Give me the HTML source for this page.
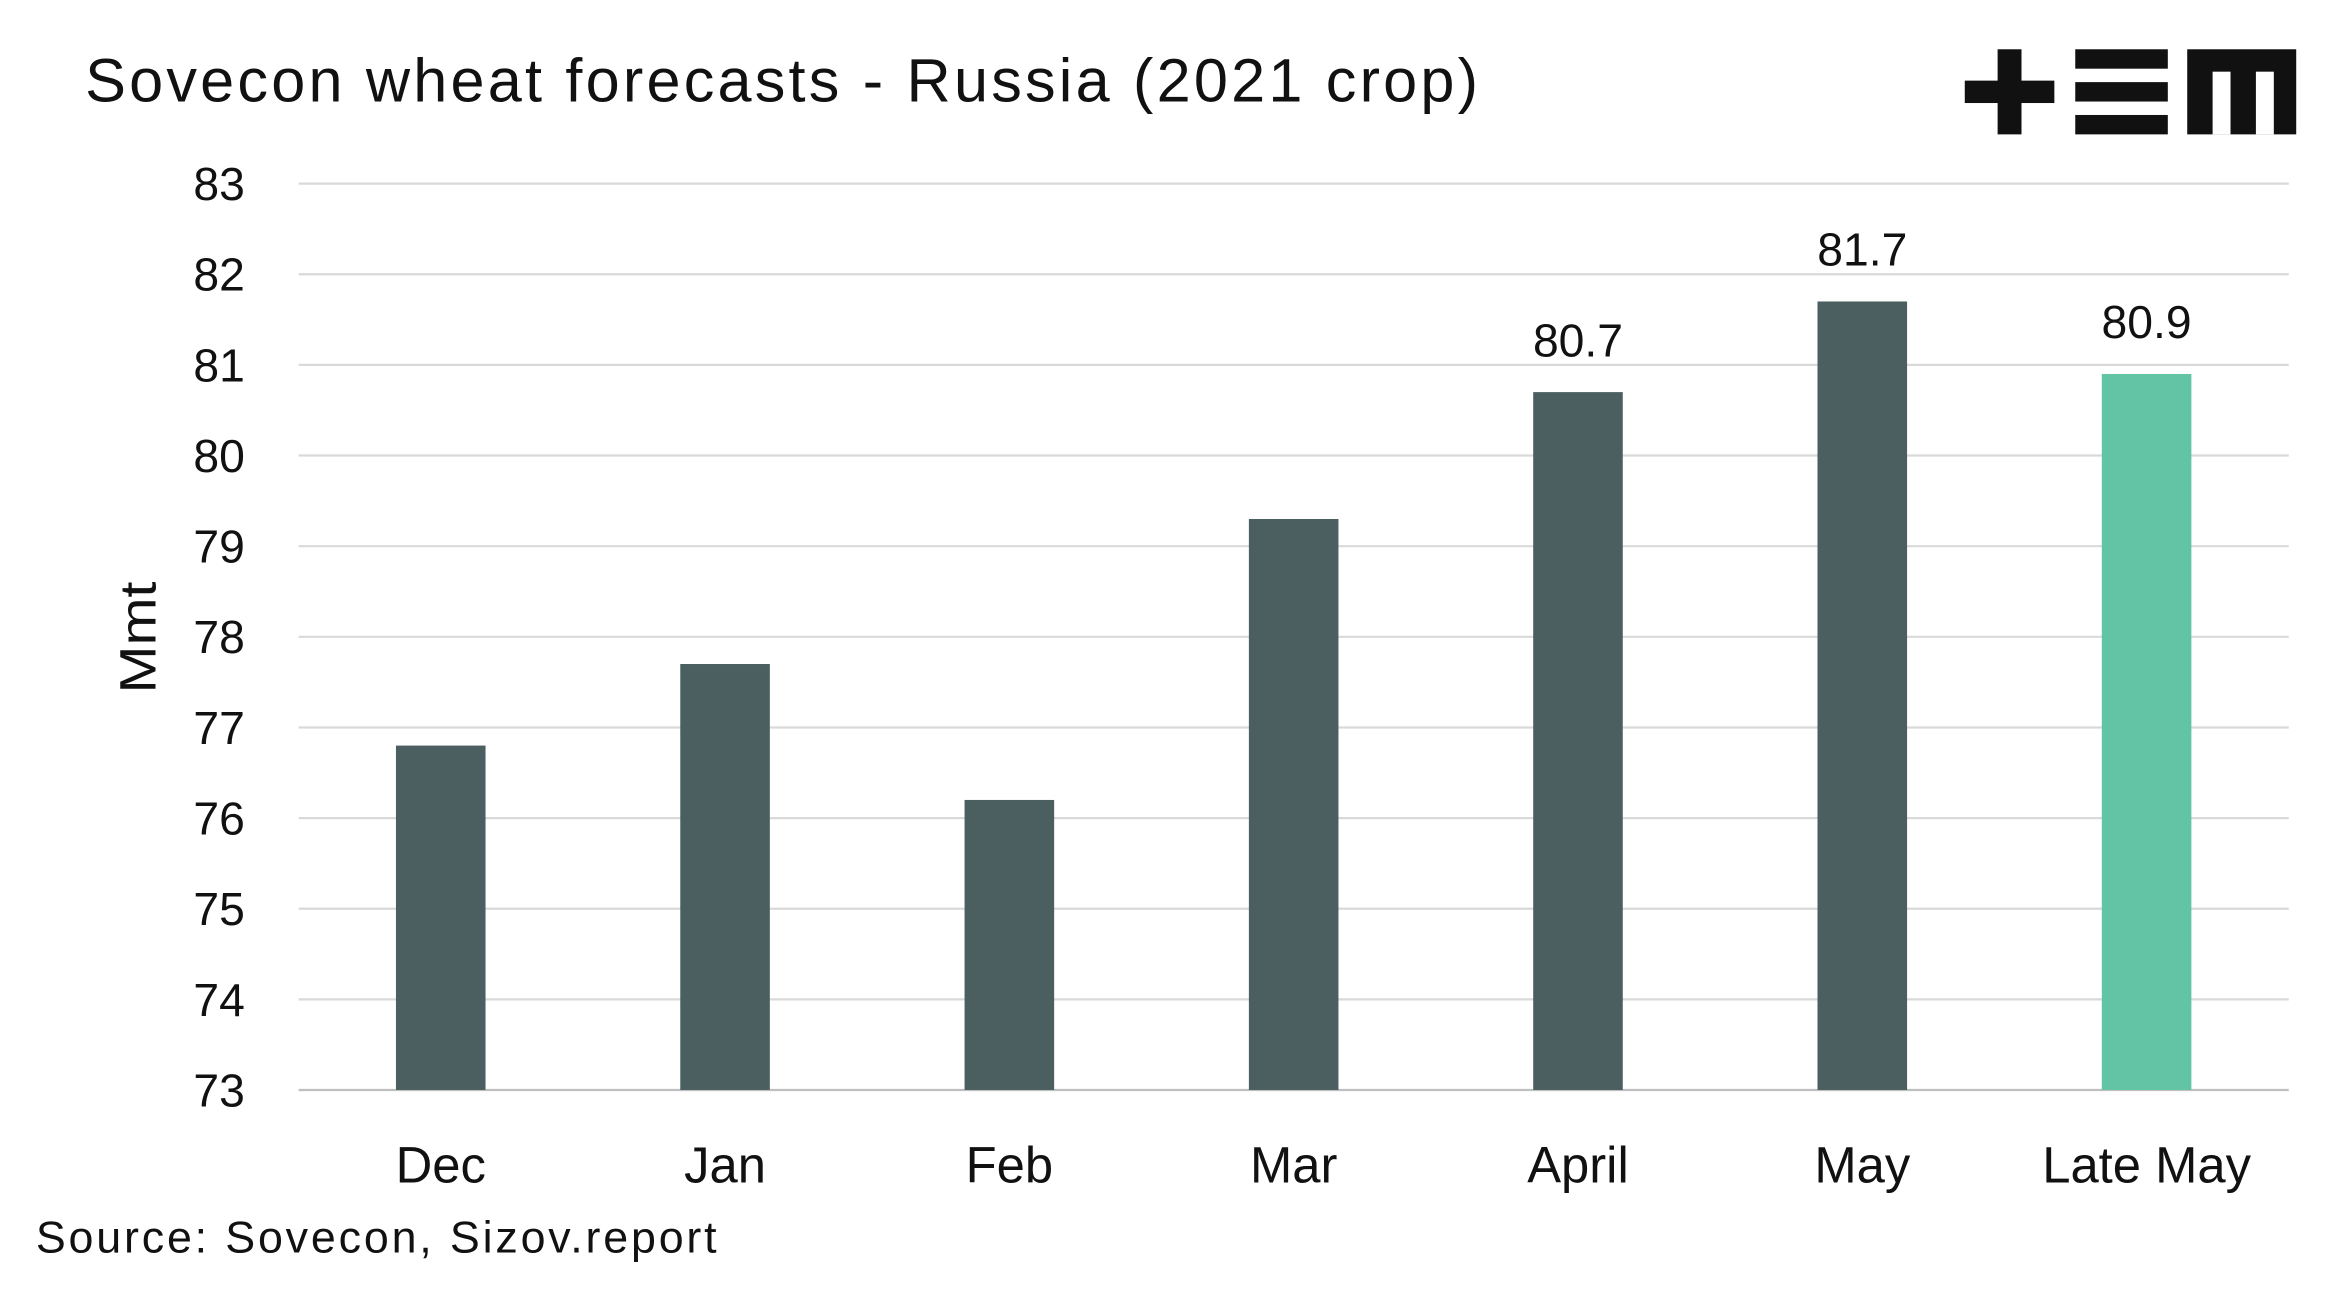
<!DOCTYPE html>
<html><head><meta charset="utf-8"><style>
html,body{margin:0;padding:0;background:#fff;}
svg{display:block;font-family:"Liberation Sans",sans-serif;}
</style></head><body>
<svg id="chart" width="2341" height="1302" viewBox="0 0 1568 872" preserveAspectRatio="none">
<rect width="1568" height="872" fill="#fff"/>
<text x="57" y="68" font-size="41" fill="#111" textLength="933" lengthAdjust="spacing">Sovecon wheat forecasts - Russia (2021 crop)</text>
<g fill="#111">
<rect x="1316" y="54" width="60" height="15"/>
<rect x="1338" y="33" width="16" height="57"/>
<rect x="1390" y="33" width="62" height="13"/>
<rect x="1390" y="55" width="62" height="13"/>
<rect x="1390" y="77" width="62" height="13"/>
<rect x="1465" y="33" width="73" height="57"/>
<rect x="1482" y="48" width="12" height="42" fill="#fff"/>
<rect x="1511" y="48" width="12" height="42" fill="#fff"/>
</g>
<g id="grid"></g>
<g id="bars"></g>
<g id="labels"></g>
<text transform="translate(104,427) rotate(-90)" text-anchor="middle" font-size="34" fill="#111" textLength="75" lengthAdjust="spacingAndGlyphs">Mmt</text>
<text x="24" y="839" font-size="30" fill="#111" textLength="456" lengthAdjust="spacing">Source: Sovecon, Sizov.report</text>
</svg>
<script>
const categories=["Dec","Jan","Feb","Mar","April","May","Late May"];
const values=[76.8,77.7,76.2,79.3,80.7,81.7,80.9];
const showLabel=[false,false,false,false,true,true,true];
const highlight=[false,false,false,false,false,false,true];
const yTicks=[73,74,75,76,77,78,79,80,81,82,83];
const NS="http://www.w3.org/2000/svg";
const x0=200,x1=1533,yMin=73,yMax=83,py0=730,py1=123;
const band=(x1-x0)/categories.length;
function y(v){return py0-(v-yMin)/(yMax-yMin)*(py0-py1);}
function xc(i){return x0+band*(i+0.5);}
function mk(tag,attrs,parent){const e=document.createElementNS(NS,tag);for(const k in attrs)e.setAttribute(k,attrs[k]);parent.appendChild(e);return e;}
const grid=document.getElementById('grid'),bars=document.getElementById('bars'),labels=document.getElementById('labels');
yTicks.forEach(t=>{
  const l=mk('line',{x1:x0,x2:x1,y1:y(t),y2:y(t),stroke:t===yMin?'#bfbfbf':'#d9d9d9','stroke-width':1.5},grid);
  
  
  const tx=mk('text',{x:164,y:y(t)+11,'text-anchor':'end','font-size':31,fill:'#111'},grid);
  tx.textContent=t;
  
  
});
categories.forEach((c,i)=>{
  const w=60;
  const r=mk('rect',{x:xc(i)-w/2,y:y(values[i]),width:w,height:y(yMin)-y(values[i]),fill:highlight[i]?'#62c4a4':'#4b5f60'},bars);
  
  
  const xl=mk('text',{x:xc(i),y:792,'text-anchor':'middle','font-size':34,fill:'#111'},labels);
  xl.textContent=c;
  
  
  if(showLabel[i]){
    const vl=mk('text',{x:xc(i),y:y(values[i])-24,'text-anchor':'middle','font-size':31,fill:'#111'},labels);
    vl.textContent=values[i].toFixed(1);
    
    
  }
});
</script>
</body></html>
